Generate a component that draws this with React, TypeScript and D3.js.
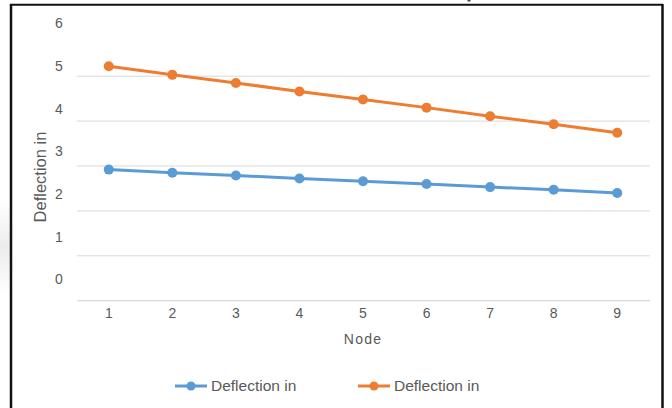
import React from "react";
import * as d3 from "d3";

const nodes = [1, 2, 3, 4, 5, 6, 7, 8, 9];
const seriesBlue = [2.92, 2.85, 2.79, 2.72, 2.66, 2.6, 2.53, 2.47, 2.4];
const seriesOrange = [5.22, 5.03, 4.85, 4.66, 4.48, 4.3, 4.11, 3.93, 3.74];
const yTicks = [0, 1, 2, 3, 4, 5, 6];
const gridValues = [0, 1, 2, 3, 4, 5];
const seriesNames = ["Deflection in", "Deflection in"];
const colors = ["#5b9bd5", "#ed7d31"];

const W = 672;
const H = 408;

export default function App() {
  const x = d3.scaleBand<number>().domain(nodes).range([77, 649]);
  const y = d3.scaleLinear().domain([0, 6]).range([300.7, 31.3]);
  const yLabel = d3.scaleLinear().domain([0, 6]).range([279.3, 23.3]);
  const cx = (n: number) => (x(n) as number) + x.bandwidth() / 2;
  const line = d3
    .line<number>()
    .x((_, i) => cx(nodes[i]))
    .y((d) => y(d));
  const series = [seriesBlue, seriesOrange];
  const font = "'Liberation Sans', Arial, sans-serif";
  const legendX = [175, 358];

  return (
    <svg
      width={W}
      height={H}
      style={{ position: "absolute", left: 0, top: 0, fontFamily: font }}
    >
      <defs>
        <linearGradient id="smudge" x1="0" x2="0" y1="0" y2="1">
          <stop offset="0" stopColor="#ececec" stopOpacity="0" />
          <stop offset="0.5" stopColor="#ececec" stopOpacity="1" />
          <stop offset="1" stopColor="#ececec" stopOpacity="0" />
        </linearGradient>
      </defs>
      <rect x={0} y={0} width={W} height={H} fill="#fff" />
      <rect x={0} y={200} width={10} height={95} fill="url(#smudge)" />
      {/* frame */}
      <line x1={10} x2={663} y1={4.7} y2={4.7} stroke="#111" strokeWidth={2} />
      <line x1={11} x2={11} y1={4} y2={H} stroke="#111" strokeWidth={2.5} />
      <line x1={662.5} x2={662.5} y1={4} y2={H} stroke="#111" strokeWidth={2.5} />
      <rect x={467.5} y={0} width={3} height={1.5} fill="#444" />
      {/* gridlines */}
      {gridValues.map((v) => (
        <line
          key={v}
          x1={77}
          x2={650}
          y1={y(v)}
          y2={y(v)}
          stroke={v === 0 ? "#d0d0d0" : "#d9d9d9"}
          strokeWidth={1}
        />
      ))}
      {/* y tick labels */}
      {yTicks.map((v) => (
        <text
          key={v}
          x={59}
          y={yLabel(v)}
          dy="0.35em"
          textAnchor="middle"
          fontSize={14}
          fill="#595959"
        >
          {v}
        </text>
      ))}
      {/* x tick labels */}
      {nodes.map((n) => (
        <text
          key={n}
          x={cx(n)}
          y={313}
          dy="0.35em"
          textAnchor="middle"
          fontSize={14}
          fill="#595959"
        >
          {n}
        </text>
      ))}
      <text
        x={363}
        y={339}
        dy="0.35em"
        textAnchor="middle"
        fontSize={14}
        fill="#595959"
        letterSpacing="1.2"
      >
        Node
      </text>
      <text
        transform={`translate(40,177) rotate(-90)`}
        dy="0.35em"
        textAnchor="middle"
        fontSize={16.5}
        fill="#595959"
      >
        Deflection in
      </text>
      {/* series */}
      {series.map((s, si) => (
        <g key={si}>
          <path
            d={line(s) || ""}
            fill="none"
            stroke={colors[si]}
            strokeWidth={3}
            strokeLinejoin="round"
          />
          {s.map((v, i) => (
            <circle key={i} cx={cx(nodes[i])} cy={y(v)} r={5} fill={colors[si]} />
          ))}
        </g>
      ))}
      {/* legend */}
      {seriesNames.map((name, i) => (
        <g key={i}>
          <line
            x1={legendX[i]}
            x2={legendX[i] + 32}
            y1={386}
            y2={386}
            stroke={colors[i]}
            strokeWidth={3}
          />
          <circle cx={legendX[i] + 16} cy={386} r={4.5} fill={colors[i]} />
          <text
            x={legendX[i] + 36}
            y={386}
            dy="0.35em"
            fontSize={15.5}
            fill="#595959"
          >
            {name}
          </text>
        </g>
      ))}
    </svg>
  );
}
